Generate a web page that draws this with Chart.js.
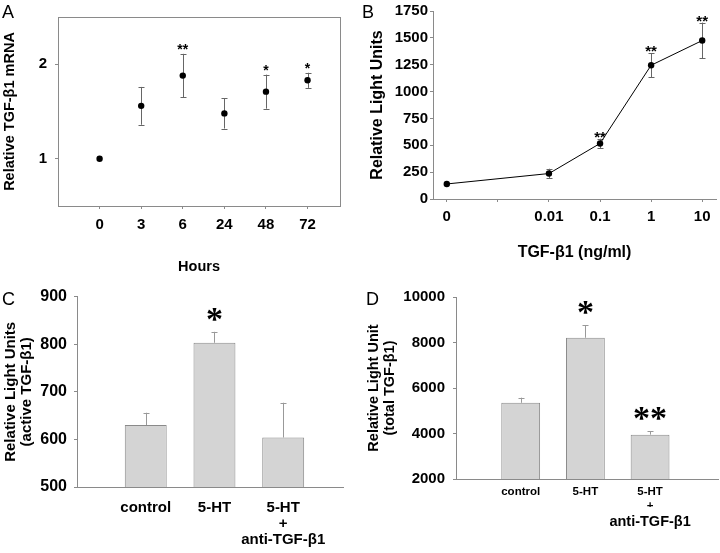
<!DOCTYPE html>
<html>
<head>
<meta charset="utf-8">
<script src="https://cdn.jsdelivr.net/npm/chart.js@4"></script>
<style>
  html, body { margin: 0; padding: 0; background: #fff; }
  #fig { position: relative; width: 720px; height: 553px; overflow: hidden; }
  #fig canvas { position: absolute; }
  .letter { position: absolute; font: 18px "Liberation Sans", Arial, sans-serif; line-height: 1; color: #000; }
</style>
</head>
<body>
<div id="fig">
  <canvas id="chartA" width="360" height="280" style="left:0;top:0;width:360px;height:280px"></canvas>
  <canvas id="chartB" width="360" height="280" style="left:360px;top:0;width:360px;height:280px"></canvas>
  <canvas id="chartC" width="360" height="273" style="left:0;top:280px;width:360px;height:273px"></canvas>
  <canvas id="chartD" width="360" height="273" style="left:360px;top:280px;width:360px;height:273px"></canvas>
  <div class="letter" style="left:2px;top:3px">A</div>
  <div class="letter" style="left:362px;top:3px">B</div>
  <div class="letter" style="left:2px;top:290px">C</div>
  <div class="letter" style="left:366px;top:290px">D</div>
</div>
<script>
// A: TGF-b1 mRNA over time
const hours = ["0", "3", "6", "24", "48", "72"];
const mrna = [1.0, 1.56, 1.88, 1.48, 1.71, 1.83];
const mrnaErr = [0, 0.2, 0.23, 0.16, 0.18, 0.08];
const mrnaStars = ["", "", "**", "", "*", "*"];
const mrnaTicks = [1, 2];

// B: luciferase vs TGF-b1 dose
const doses = [0, 0.01, 0.1, 1, 10];
const doseTickVals = [0.0001, 0.001, 0.01, 0.1, 1, 10];
const doseTickLabels = ["0", "", "0.01", "0.1", "1", "10"];
const rlu = [140, 237, 517, 1245, 1475];
const rluErr = [0, 45, 45, 113, 167];
const rluStars = ["", "", "**", "**", "**"];
const rluTicks = [0, 250, 500, 750, 1000, 1250, 1500, 1750];

// C: active TGF-b1
const groupPos = [0, 1, 2];
const groupLabelsC = [["control"], ["5-HT"], ["5-HT", "+", "anti-TGF-β1"]];
const activeVals = [630, 803, 604];
const activeErr = [26, 23, 73];
const activeStars = ["", "*", ""];
const activeTicks = [500, 600, 700, 800, 900];

// D: total TGF-b1
const groupLabelsD = [["control"], ["5-HT"], ["5-HT", "+"]];
const groupLabelsD2 = ["", "", "anti-TGF-β1"];
const totalVals = [5350, 8210, 3950];
const totalErr = [225, 550, 160];
const totalStars = ["", "*", "**"];
const totalTicks = [2000, 4000, 6000, 8000, 10000];

const FONT = '"Liberation Sans", Arial, Helvetica, sans-serif';
const AXIS = "#8a8a8a";
Chart.defaults.font.family = FONT;
Chart.defaults.font.weight = "bold";
Chart.defaults.color = "#000";
Chart.defaults.animation = false;
Chart.defaults.plugins.legend.display = false;
Chart.defaults.plugins.tooltip.enabled = false;

// error bars + significance stars, read from dataset.errors / dataset.stars
const marks = {
  id: "marks",
  beforeDatasetsDraw(chart, args, opts) {
    const ctx = chart.ctx;
    const ys = chart.scales.y;
    chart.data.datasets.forEach((ds, di) => {
      const meta = chart.getDatasetMeta(di);
      meta.data.forEach((el, i) => {
        const v = ds.data[i].y;
        const e = ds.errors ? ds.errors[i] : 0;
        const top = ys.getPixelForValue(v + e);
        const x = Math.round(el.x) + 0.5;
        if (e > 0) {
          const bot = opts.upOnly ? ys.getPixelForValue(v) : ys.getPixelForValue(v - e);
          ctx.save();
          ctx.strokeStyle = opts.color;
          ctx.lineWidth = 1;
          ctx.beginPath();
          ctx.moveTo(x, top);
          ctx.lineTo(x, bot);
          ctx.moveTo(x - opts.cap, Math.round(top) + 0.5);
          ctx.lineTo(x + opts.cap, Math.round(top) + 0.5);
          if (!opts.upOnly) {
            ctx.moveTo(x - opts.cap, Math.round(bot) + 0.5);
            ctx.lineTo(x + opts.cap, Math.round(bot) + 0.5);
          }
          ctx.stroke();
          ctx.restore();
        }
        const s = ds.stars && ds.stars[i];
        if (s) {
          ctx.save();
          ctx.font = opts.starFont;
          ctx.fillStyle = "#000";
          ctx.textAlign = "center";
          ctx.textBaseline = "alphabetic";
          ctx.fillText(s, el.x, top - opts.starGap);
          ctx.restore();
        }
      });
    });
  },
};

// box round the plot area (panel A)
const frame = {
  id: "frame",
  beforeDatasetsDraw(chart, args, opts) {
    if (!opts.show) return;
    const a = chart.chartArea;
    const ctx = chart.ctx;
    ctx.save();
    ctx.strokeStyle = AXIS;
    ctx.lineWidth = 1;
    ctx.strokeRect(Math.round(a.left) + 0.5, Math.round(a.top) + 0.5,
      Math.round(a.right - a.left), Math.round(a.bottom - a.top));
    ctx.restore();
  },
};
Chart.register(marks, frame);

function setTicks(list) {
  return (scale) => {
    scale.ticks = list.map((v) => ({ value: v }));
  };
}
function fixWidth(w) {
  return (scale) => { scale.width = w; };
}
function fixHeight(h) {
  return (scale) => { scale.height = h; };
}
const plain = (v) => String(v);

// ---- A
new Chart(document.getElementById("chartA"), {
  type: "scatter",
  data: {
    datasets: [{
      data: mrna.map((v, i) => ({ x: i, y: v })),
      errors: mrnaErr,
      stars: mrnaStars,
      backgroundColor: "#000",
      borderWidth: 0,
      pointRadius: 3.2,
      showLine: false,
    }],
  },
  options: {
    responsive: false,
    layout: { padding: { left: 0, top: 3, right: 20, bottom: 0 } },
    scales: {
      x: {
        type: "linear", min: -1, max: 5.78,
        afterBuildTicks: setTicks(hours.map((h, i) => i)),
        afterFit: fixHeight(74),
        grid: { drawOnChartArea: false, tickLength: 3, color: AXIS },
        border: { color: AXIS },
        ticks: { padding: 7, font: { size: 15 }, callback: (v) => hours[v] },
        title: { display: true, text: "Hours", font: { size: 14.5 }, padding: { top: 0, bottom: 4 } },
      },
      y: {
        min: 0.5, max: 2.5,
        afterBuildTicks: setTicks(mrnaTicks),
        afterFit: fixWidth(58),
        grid: { drawOnChartArea: false, tickLength: 3, color: AXIS },
        border: { color: AXIS },
        ticks: { padding: 8, font: { size: 15 }, callback: plain },
        title: { display: true, text: "Relative TGF-β1 mRNA", font: { size: 14.5 }, padding: { top: 1, bottom: 0 } },
      },
    },
    plugins: {
      marks: { color: "#666", cap: 3, upOnly: false, starFont: "bold 14px " + FONT, starGap: 0 },
      frame: { show: true },
    },
  },
});

// ---- B
new Chart(document.getElementById("chartB"), {
  type: "line",
  data: {
    datasets: [{
      data: doses.map((d, i) => ({ x: d === 0 ? doseTickVals[0] : d, y: rlu[i] })),
      errors: rluErr,
      stars: rluStars,
      borderColor: "#000",
      borderWidth: 1,
      backgroundColor: "#000",
      pointRadius: 3.2,
      pointBorderWidth: 0,
      tension: 0,
    }],
  },
  options: {
    responsive: false,
    layout: { padding: { left: 0, top: 7, right: 2, bottom: 0 } },
    scales: {
      x: {
        type: "logarithmic", min: Math.pow(10, -4.27), max: Math.pow(10, 1.27),
        afterBuildTicks: setTicks(doseTickVals),
        afterFit: fixHeight(81),
        grid: { drawOnChartArea: false, tickLength: 3, color: AXIS },
        border: { color: AXIS },
        ticks: { padding: 6, font: { size: 15 }, autoSkip: false, maxRotation: 0, callback: (v, i) => doseTickLabels[i] },
        title: { display: true, text: "TGF-β1 (ng/ml)", font: { size: 16 }, padding: { top: 0, bottom: 18 } },
      },
      y: {
        min: 0, max: 1750,
        afterBuildTicks: setTicks(rluTicks),
        afterFit: fixWidth(73),
        grid: { drawOnChartArea: false, tickLength: 3, color: AXIS },
        border: { color: AXIS },
        ticks: { padding: 2, font: { size: 15 }, callback: plain },
        title: { display: true, text: "Relative Light Units", font: { size: 16 }, padding: { top: 8, bottom: 0 } },
      },
    },
    plugins: {
      marks: { color: "#666", cap: 3, upOnly: false, starFont: "bold 15px " + FONT, starGap: -3 },
    },
  },
});

// ---- C
new Chart(document.getElementById("chartC"), {
  type: "bar",
  data: {
    datasets: [{
      data: activeVals.map((v, i) => ({ x: groupPos[i], y: v })),
      errors: activeErr,
      stars: activeStars,
      backgroundColor: "#d4d4d4",
      borderColor: "#8a8a8a",
      borderWidth: 1,
      barPercentage: 0.61,
      categoryPercentage: 1,
    }],
  },
  options: {
    responsive: false,
    layout: { padding: { left: 0, top: 16, right: 17, bottom: 0 } },
    scales: {
      x: {
        type: "linear", min: -1, max: 2.87, offset: false,
        afterBuildTicks: setTicks(groupPos),
        afterFit: fixHeight(66),
        grid: { display: false, drawTicks: false, offset: false },
        border: { color: AXIS },
        ticks: { padding: 13, font: { size: 15, lineHeight: 1.05 }, maxRotation: 0, callback: (v) => groupLabelsC[v] },
      },
      y: {
        min: 500, max: 900,
        afterBuildTicks: setTicks(activeTicks),
        afterFit: fixWidth(77),
        grid: { drawOnChartArea: false, tickLength: 3, color: AXIS },
        border: { color: AXIS },
        ticks: { padding: 7, font: { size: 16 }, callback: plain },
        title: {
          display: true, text: ["Relative Light Units", "(active TGF-β1)"],
          font: { size: 15, lineHeight: 1.07 }, padding: { top: 3, bottom: 0 },
        },
      },
    },
    plugins: {
      marks: { color: "#999", cap: 3, upOnly: true, starFont: "bold 34px \"Liberation Serif\", serif", starGap: 2 },
    },
  },
});

// ---- D
new Chart(document.getElementById("chartD"), {
  type: "bar",
  data: {
    datasets: [{
      data: totalVals.map((v, i) => ({ x: groupPos[i], y: v })),
      errors: totalErr,
      stars: totalStars,
      backgroundColor: "#d4d4d4",
      borderColor: "#8a8a8a",
      borderWidth: 1,
      barPercentage: 0.6,
      categoryPercentage: 1,
    }],
  },
  options: {
    responsive: false,
    layout: { padding: { left: 0, top: 17, right: 2, bottom: 0 } },
    scales: {
      x: {
        type: "linear", min: -1, max: 3.05, weight: 0, offset: false,
        afterBuildTicks: setTicks(groupPos),
        afterFit: fixHeight(28),
        grid: { display: false, drawTicks: false, offset: false },
        border: { color: AXIS },
        ticks: { padding: 6, font: { size: 11.5 }, maxRotation: 0, callback: (v) => groupLabelsD[v] },
      },
      x2: {
        type: "linear", position: "bottom", min: -1, max: 3.05, weight: 1, offset: false,
        afterBuildTicks: setTicks(groupPos),
        afterFit: fixHeight(46),
        grid: { display: false, drawTicks: false },
        border: { display: false },
        ticks: { padding: 6, font: { size: 14.5 }, maxRotation: 0, callback: (v) => groupLabelsD2[v] },
      },
      y: {
        min: 2000, max: 10000,
        afterBuildTicks: setTicks(totalTicks),
        afterFit: fixWidth(96),
        grid: { drawOnChartArea: false, tickLength: 3, color: AXIS },
        border: { color: AXIS },
        ticks: { padding: 8, font: { size: 15 }, callback: plain },
        title: {
          display: true, text: ["Relative Light Unit", "(total TGF-β1)"],
          font: { size: 14.5, lineHeight: 1.1 }, padding: { top: 6, bottom: 0 },
        },
      },
    },
    plugins: {
      marks: { color: "#999", cap: 3, upOnly: true, starFont: "bold 34px \"Liberation Serif\", serif", starGap: 2 },
    },
  },
});
</script>
</body>
</html>
